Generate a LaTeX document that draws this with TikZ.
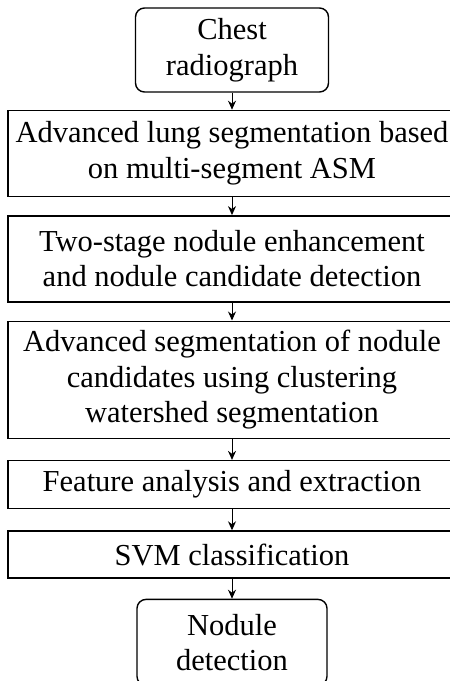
\documentclass[tikz,border=0pt]{standalone}
\usepackage{fontspec}
\setmainfont{Liberation Serif}
\usetikzlibrary{positioning, arrows.meta}
\tikzstyle{arrow} = [line width=1pt,-{Stealth[length=9pt,width=8pt]}]
\tikzstyle{stage} = [rectangle, draw, line width=1.4pt, text centered, align=center, minimum width=448pt, font=\fontsize{30.5}{35.5}\selectfont]
\tikzstyle{term} = [rectangle, draw, line width=1.4pt, rounded corners=9pt, text centered, align=center, minimum width=193pt, font=\fontsize{30.5}{35.5}\selectfont]

\begin{document}
\begin{tikzpicture}
                \useasboundingbox (0,0) rectangle (450pt,-681pt);
                \node (chest) [term, minimum height=84pt] at (232pt,-50pt) {Chest\\radiograph};
                \node (lung) [stage, minimum height=86pt, below=17pt of chest] {Advanced lung segmentation based\\on multi-segment ASM};
                \node (enhance) [stage, minimum height=86pt, below=18pt of lung] {Two-stage nodule enhancement\\and nodule candidate detection};
                \node (watershed) [stage, minimum height=117pt, below=18pt of enhance] {Advanced segmentation of nodule\\candidates using clustering\\watershed segmentation};
                \node (feature) [stage, minimum height=48pt, below=21pt of watershed] {Feature analysis and extraction};
                \node (svm) [stage, minimum height=47pt, below=21pt of feature] {SVM classification};
                \node (detect) [term, minimum width=190pt, minimum height=86pt, below=20pt of svm] {Nodule\\detection};

                \draw [arrow] (chest) -- (lung);
                \draw [arrow] (lung) -- (enhance);
                \draw [arrow] (enhance) -- (watershed);
                \draw [arrow] (watershed) -- (feature);
                \draw [arrow] (feature) -- (svm);
                \draw [arrow] (svm) -- (detect);
            \end{tikzpicture}
\end{document}
